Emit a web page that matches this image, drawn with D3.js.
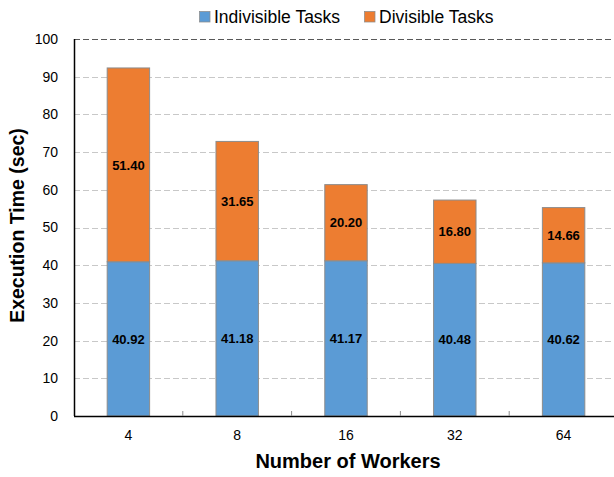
<!DOCTYPE html>
<html>
<head>
<meta charset="utf-8">
<script src="https://cdn.jsdelivr.net/npm/d3@7/dist/d3.min.js"></script>
<style>
  html, body { margin: 0; padding: 0; background: #fff; }
  svg { display: block; font-family: Arial, "Liberation Sans", sans-serif; }
</style>
</head>
<body>
<svg id="chart" width="614" height="477"></svg>
<script>
// Execution time split into indivisible and divisible work per worker count
const workers = ["4", "8", "16", "32", "64"];
const indivisible = [40.92, 41.18, 41.17, 40.48, 40.62];
const divisible = [51.40, 31.65, 20.20, 16.80, 14.66];
const yTicks = [0, 10, 20, 30, 40, 50, 60, 70, 80, 90, 100];
const seriesNames = ["Indivisible Tasks", "Divisible Tasks"];
const seriesColors = ["#5b9bd5", "#ed7d31"];

const FONT = "Arial, 'Liberation Sans', sans-serif";
const svg = d3.select("#chart");
const plotLeft = 74, plotRight = 618, plotTop = 39, plotBottom = 416;

const x = d3.scaleBand().domain(workers).range([plotLeft, plotRight]).paddingInner(0.61).paddingOuter(0.305);
const y = d3.scaleLinear().domain([0, 100]).range([plotBottom, plotTop]);

// gridlines
svg.append("g").selectAll("line").data(yTicks.filter(t => t > 0)).join("line")
  .attr("x1", plotLeft).attr("x2", 614)
  .attr("y1", d => Math.round(y(d)) + 0.5).attr("y2", d => Math.round(y(d)) + 0.5)
  .attr("stroke", d => d === 100 ? "#595959" : "#c8c8c8")
  .attr("stroke-width", 1)
  .attr("stroke-dasharray", "6,3");

// stacked bars
const rows = workers.map((w, i) => ({ w, a: indivisible[i], b: divisible[i] }));
const g = svg.append("g");
g.selectAll("rect.ind").data(rows).join("rect").attr("class", "ind")
  .attr("x", d => x(d.w)).attr("width", x.bandwidth())
  .attr("y", d => y(d.a)).attr("height", d => y(0) - y(d.a))
  .attr("fill", seriesColors[0]).attr("stroke", "#8c8c8c").attr("stroke-width", 1);
g.selectAll("rect.div").data(rows).join("rect").attr("class", "div")
  .attr("x", d => x(d.w)).attr("width", x.bandwidth())
  .attr("y", d => y(d.a + d.b)).attr("height", d => y(d.a) - y(d.a + d.b))
  .attr("fill", seriesColors[1]).attr("stroke", "#8c8c8c").attr("stroke-width", 1);

// value labels
g.selectAll("text.li").data(rows).join("text").attr("class", "li")
  .attr("x", d => x(d.w) + x.bandwidth() / 2).attr("y", d => y(d.a / 2))
  .attr("dy", "0.36em").attr("text-anchor", "middle")
  .attr("font-size", 13).attr("font-weight", "bold").attr("fill", "#000")
  .attr("font-family", FONT).text(d => d.a.toFixed(2));
g.selectAll("text.ld").data(rows).join("text").attr("class", "ld")
  .attr("x", d => x(d.w) + x.bandwidth() / 2).attr("y", d => y(d.a + d.b / 2))
  .attr("dy", "0.36em").attr("text-anchor", "middle")
  .attr("font-size", 13).attr("font-weight", "bold").attr("fill", "#000")
  .attr("font-family", FONT).text(d => d.b.toFixed(2));

// x axis
const xAxis = svg.append("g").attr("transform", `translate(0,${plotBottom})`)
  .call(d3.axisBottom(x).tickSize(0).tickPadding(14));
xAxis.select(".domain").remove();
xAxis.selectAll("text").attr("font-size", 14).attr("fill", "#000").attr("font-family", FONT);
svg.append("line").attr("x1", plotLeft).attr("x2", 614).attr("y1", plotBottom + 0.5).attr("y2", plotBottom + 0.5)
  .attr("stroke", "#000").attr("stroke-width", 1.5);
// category separators
const step = x.step();
svg.append("g").selectAll("line").data(d3.range(1, workers.length)).join("line")
  .attr("x1", i => plotLeft + i * step).attr("x2", i => plotLeft + i * step)
  .attr("y1", plotBottom).attr("y2", plotBottom - 5)
  .attr("stroke", "#8c8c8c").attr("stroke-width", 1);

// y axis
const yAxis = svg.append("g").attr("transform", `translate(${plotLeft},0)`)
  .call(d3.axisLeft(y).tickValues(yTicks).tickSize(0).tickPadding(16));
yAxis.select(".domain").remove();
yAxis.selectAll("text").attr("font-size", 14).attr("fill", "#000").attr("font-family", FONT);
svg.append("line").attr("x1", plotLeft + 0.5).attr("x2", plotLeft + 0.5).attr("y1", plotTop).attr("y2", plotBottom)
  .attr("stroke", "#000").attr("stroke-width", 1.5);

// axis titles
svg.append("text").attr("x", 348).attr("y", 468)
  .attr("text-anchor", "middle").attr("font-size", 20).attr("font-weight", "bold")
  .attr("font-family", FONT).text("Number of Workers");
svg.append("text").attr("transform", `translate(24,${225.5}) rotate(-90)`)
  .attr("text-anchor", "middle").attr("font-size", 19.5).attr("font-weight", "bold")
  .attr("font-family", FONT).text("Execution Time (sec)");

// legend
const legend = svg.append("g");
const legendX = [199.5, 364.5];
seriesNames.forEach((name, i) => {
  legend.append("rect").attr("x", legendX[i]).attr("y", 11.5).attr("width", 10.5).attr("height", 10.5)
    .attr("fill", seriesColors[i]).attr("stroke", "#8c8c8c").attr("stroke-width", 0.75);
  legend.append("text").attr("x", legendX[i] + 14.5).attr("y", 22.5)
    .attr("font-size", 17.5).attr("fill", "#000").attr("font-family", FONT).text(name);
});
</script>
</body>
</html>
